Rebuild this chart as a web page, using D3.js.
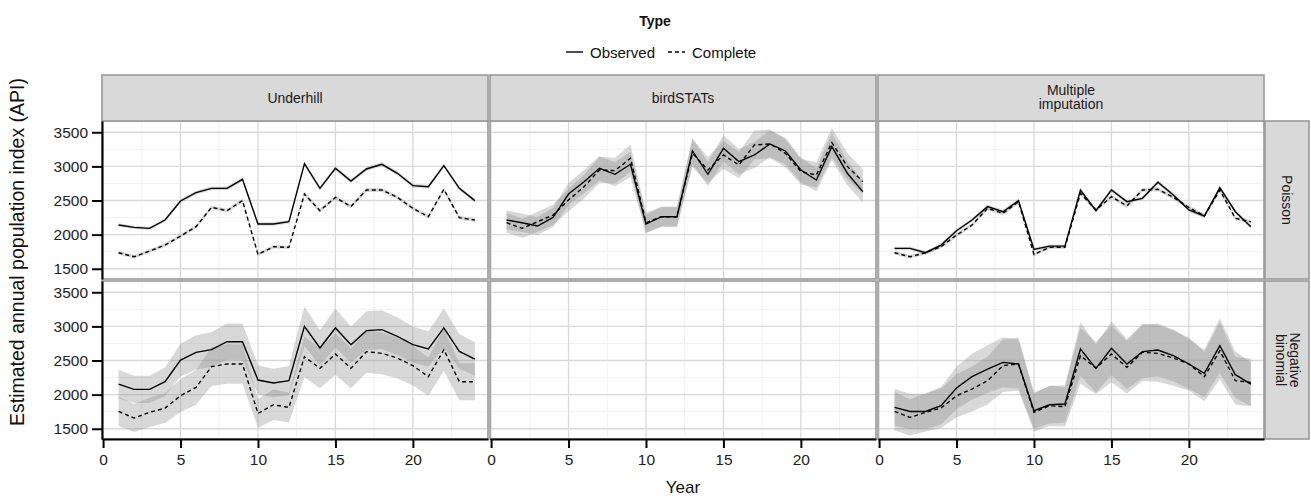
<!DOCTYPE html>
<html><head><meta charset="utf-8">
<script src="https://cdn.jsdelivr.net/npm/d3@7"></script>
<style>body{margin:0;background:#fff;font-family:"Liberation Sans",Arial,sans-serif}</style>
</head><body><svg id="c" width="1311" height="498"></svg>
<script>
const years = d3.range(1, 25);
const methods = ["Underhill", "birdSTATs", "Multiple imputation"];
const models = ["Poisson", "Negative binomial"];
const types = ["Observed", "Complete"];
const xTicks = [0, 5, 10, 15, 20];
const yTicks = [1500, 2000, 2500, 3000, 3500];

// Underhill – Poisson
const uhPoisObs  = [2141,2106,2092,2214,2493,2615,2678,2678,2810,2155,2155,2189,3040,2678,2972,2786,2962,3031,2899,2718,2703,3011,2678,2498];
const uhPoisObsHw= [25,25,25,25,28,28,28,28,30,25,25,25,30,28,30,28,30,30,30,28,28,30,28,28];
const uhPoisCmp  = [1735,1676,1759,1847,1979,2116,2400,2351,2498,1710,1823,1813,2595,2351,2546,2410,2654,2654,2546,2385,2263,2664,2248,2214];
const uhPoisCmpHw= [25,25,25,25,26,26,28,28,28,25,25,25,28,28,28,28,30,30,28,28,28,30,28,28];
// Underhill – Negative binomial
const uhNbObs    = [2155,2077,2077,2189,2507,2620,2659,2776,2776,2214,2170,2204,3001,2683,2977,2732,2938,2952,2855,2732,2669,2977,2634,2522];
const uhNbObsHw  = [210,200,200,210,240,250,255,265,265,215,210,215,290,260,285,265,285,285,275,265,260,285,255,245];
const uhNbCmp    = [1754,1657,1740,1803,1984,2106,2410,2449,2449,1725,1852,1813,2556,2385,2595,2385,2630,2605,2537,2424,2263,2659,2189,2189];
const uhNbCmpHw  = [215,205,215,220,240,255,285,290,290,210,225,220,300,290,305,290,310,305,300,290,280,310,270,270];
// birdSTATs – Poisson
const bsPoisObs  = [2214,2175,2126,2253,2595,2776,2972,2884,3031,2155,2263,2263,3226,2884,3265,3070,3167,3329,3226,2947,2801,3290,2899,2630];
const bsPoisObsHw= [140,135,130,140,160,170,180,175,185,135,140,140,195,175,195,185,190,200,195,180,170,200,175,160];
const bsPoisCmp  = [2175,2092,2189,2287,2507,2703,2947,2938,3119,2175,2263,2263,3192,2947,3167,3021,3314,3329,3192,2923,2874,3348,3000,2776];
const bsPoisCmpHw= [145,140,145,150,165,175,190,190,200,145,150,150,205,190,205,195,210,210,205,190,185,215,195,180];
// Multiple imputation – Poisson
const miPoisObs  = [1798,1798,1735,1847,2057,2214,2410,2336,2498,1784,1832,1832,2654,2351,2654,2483,2532,2767,2581,2361,2273,2688,2336,2116];
const miPoisObsHw= [25,25,25,25,26,26,28,28,28,25,25,25,28,28,28,28,28,30,28,28,28,30,28,26];
const miPoisCmp  = [1735,1676,1735,1823,1994,2140,2385,2312,2483,1710,1813,1813,2605,2361,2556,2420,2654,2664,2546,2400,2273,2654,2239,2189];
const miPoisCmpHw= [25,25,25,25,26,26,28,28,28,25,25,25,28,28,28,28,28,30,28,28,28,30,28,26];
// Multiple imputation – Negative binomial
const miNbObs    = [1813,1754,1754,1837,2097,2263,2375,2473,2449,1764,1852,1862,2669,2385,2678,2449,2630,2654,2571,2449,2312,2718,2292,2155];
const miNbObsHw  = [270,260,260,275,310,335,350,365,360,265,275,275,395,355,395,365,390,390,380,365,345,400,340,320];
const miNbCmp    = [1754,1666,1740,1803,1984,2082,2204,2424,2449,1740,1837,1823,2571,2390,2595,2400,2620,2605,2537,2449,2263,2644,2204,2180];
const miNbCmpHw  = [280,265,280,290,315,330,350,385,390,280,295,290,410,380,415,385,420,415,405,390,360,420,350,350];

const panels = [
  {col:0,row:0,series:[[uhPoisObs,uhPoisObsHw],[uhPoisCmp,uhPoisCmpHw]]},
  {col:1,row:0,series:[[bsPoisObs,bsPoisObsHw],[bsPoisCmp,bsPoisCmpHw]]},
  {col:2,row:0,series:[[miPoisObs,miPoisObsHw],[miPoisCmp,miPoisCmpHw]]},
  {col:0,row:1,series:[[uhNbObs,uhNbObsHw],[uhNbCmp,uhNbCmpHw]]},
  {col:1,row:1,series:[]},
  {col:2,row:1,series:[[miNbObs,miNbObsHw],[miNbCmp,miNbCmpHw]]}
];

const FONT = "Liberation Sans, Arial, sans-serif";
const svg = d3.select("#c");
const left0 = 102, pw = 386, gap = 2;
const rowTop = [121, 281], ph = 158;
const stripTop = 75, stripH = 46;
const rightStripW = 44;
const colLeft = i => left0 + i*(pw+gap);

const xScales = methods.map((m,i) => d3.scaleLinear().domain([-0.07, 24.85]).range([colLeft(i), colLeft(i)+pw]));
const yScales = models.map((m,j) => d3.scaleLinear().domain([1350, 3665]).range([rowTop[j]+ph, rowTop[j]]));

const dash = ["none", "4,3"];
const defs = svg.append("defs");

panels.forEach((p, k) => {
  const xs = xScales[p.col], ys = yScales[p.row];
  const g = svg.append("g");
  const x0 = colLeft(p.col), y0 = rowTop[p.row];
  defs.append("clipPath").attr("id","clip"+k).append("rect").attr("x",x0).attr("y",y0).attr("width",pw).attr("height",ph);
  g.append("rect").attr("x",x0).attr("y",y0).attr("width",pw).attr("height",ph).attr("fill","#fff");
  const xMinor = [2.5,7.5,12.5,17.5,22.5];
  const yMinor = [1750,2250,2750,3250];
  g.selectAll(".xm").data(xMinor).join("line").attr("x1",d=>xs(d)).attr("x2",d=>xs(d)).attr("y1",y0).attr("y2",y0+ph).attr("stroke","#f2f2f2").attr("stroke-width",1);
  g.selectAll(".ym").data(yMinor).join("line").attr("x1",x0).attr("x2",x0+pw).attr("y1",d=>ys(d)).attr("y2",d=>ys(d)).attr("stroke","#f2f2f2").attr("stroke-width",1);
  g.selectAll(".xM").data(xTicks).join("line").attr("x1",d=>xs(d)).attr("x2",d=>xs(d)).attr("y1",y0).attr("y2",y0+ph).attr("stroke","#d9d9d9").attr("stroke-width",1.3);
  g.selectAll(".yM").data(yTicks).join("line").attr("x1",x0).attr("x2",x0+pw).attr("y1",d=>ys(d)).attr("y2",d=>ys(d)).attr("stroke","#d9d9d9").attr("stroke-width",1.3);
  const cg = g.append("g").attr("clip-path","url(#clip"+k+")");
  p.series.forEach(([est, hw]) => {
    const area = d3.area().x((d,i)=>xs(years[i])).y0((d,i)=>ys(est[i]-hw[i])).y1((d,i)=>ys(est[i]+hw[i]));
    cg.append("path").attr("d", area(est)).attr("fill","#8f8f8f").attr("fill-opacity",0.35);
  });
  p.series.forEach(([est, hw], s) => {
    const line = d3.line().x((d,i)=>xs(years[i])).y(d=>ys(d));
    cg.append("path").attr("d", line(est)).attr("fill","none").attr("stroke","#000").attr("stroke-width",1.4).attr("stroke-dasharray",dash[s]);
  });
  g.append("rect").attr("x",x0).attr("y",y0).attr("width",pw).attr("height",ph).attr("fill","none").attr("stroke","#999").attr("stroke-width",1.6);
});

// top strips
methods.forEach((m,i) => {
  const x0 = colLeft(i);
  svg.append("rect").attr("x",x0).attr("y",stripTop).attr("width",pw).attr("height",stripH).attr("fill","#d9d9d9").attr("stroke","#999").attr("stroke-width",1.6);
  const lines = m === "Multiple imputation" ? ["Multiple","imputation"] : [m];
  const t = svg.append("text").attr("x",x0+pw/2).attr("y",stripTop+stripH/2).attr("text-anchor","middle").attr("font-size",14).attr("fill","#1a1a1a");
  lines.forEach((l,li) => t.append("tspan").attr("x",x0+pw/2).attr("dy", li===0 ? (lines.length===1? "0.35em" : "-0.2em") : "1.0em").text(l));
});
// right strips
models.forEach((m,j) => {
  const x0 = colLeft(2)+pw+1, y0 = rowTop[j];
  svg.append("rect").attr("x",x0).attr("y",y0).attr("width",rightStripW).attr("height",ph).attr("fill","#d9d9d9").attr("stroke","#999").attr("stroke-width",1.6);
  const cx = x0+rightStripW/2, cy = y0+ph/2;
  const lines = m === "Negative binomial" ? ["Negative","binomial"] : [m];
  const t = svg.append("text").attr("transform",`translate(${cx},${cy}) rotate(90)`).attr("text-anchor","middle").attr("font-size",14).attr("fill","#1a1a1a");
  lines.forEach((l,li) => t.append("tspan").attr("x",0).attr("dy", li===0 ? (lines.length===1? "0.35em" : "-0.2em") : "1.0em").text(l));
});

// y axes
models.forEach((m,j) => {
  const ax = d3.axisLeft(yScales[j]).tickValues(yTicks).tickFormat(d3.format("d")).tickSizeInner(10).tickSizeOuter(0).tickPadding(4);
  const g = svg.append("g").attr("transform",`translate(${left0},0)`).call(ax);
  g.select(".domain").attr("stroke","#000").attr("stroke-width",2);
  g.selectAll(".tick line").attr("stroke","#000").attr("stroke-width",2);
  g.selectAll(".tick text").attr("font-size",15.5).attr("fill","#222").attr("font-family",FONT);
});
// x axes
methods.forEach((m,i) => {
  const ax = d3.axisBottom(xScales[i]).tickValues(xTicks).tickSizeInner(9).tickSizeOuter(0).tickPadding(6);
  const g = svg.append("g").attr("transform",`translate(0,${rowTop[1]+ph})`).call(ax);
  g.select(".domain").attr("stroke","#000").attr("stroke-width",2);
  g.selectAll(".tick line").attr("stroke","#000").attr("stroke-width",2);
  g.selectAll(".tick text").attr("font-size",15.5).attr("fill","#222").attr("font-family",FONT);
});

// axis titles
svg.append("text").attr("x", (left0 + colLeft(2)+pw)/2).attr("y", 493).attr("text-anchor","middle").attr("font-size",17).attr("fill","#111").text("Year");
svg.append("text").attr("transform",`translate(24,252) rotate(-90)`).attr("text-anchor","middle").attr("font-size",19.5).attr("fill","#111").text("Estimated annual population index (API)");

// legend
const lx = 655;
svg.append("text").attr("x",lx).attr("y",26).attr("text-anchor","middle").attr("font-size",14).attr("font-weight","bold").attr("fill","#111").text("Type");
const legItems = [{label:types[0], dash:dash[0], x:566},{label:types[1], dash:dash[1], x:668}];
legItems.forEach(it => {
  svg.append("line").attr("x1",it.x).attr("x2",it.x+17).attr("y1",52).attr("y2",52).attr("stroke","#000").attr("stroke-width",1.4).attr("stroke-dasharray",it.dash);
  svg.append("text").attr("x",it.x+24).attr("y",57.5).attr("font-size",15).attr("fill","#111").text(it.label);
});
</script></body></html>
